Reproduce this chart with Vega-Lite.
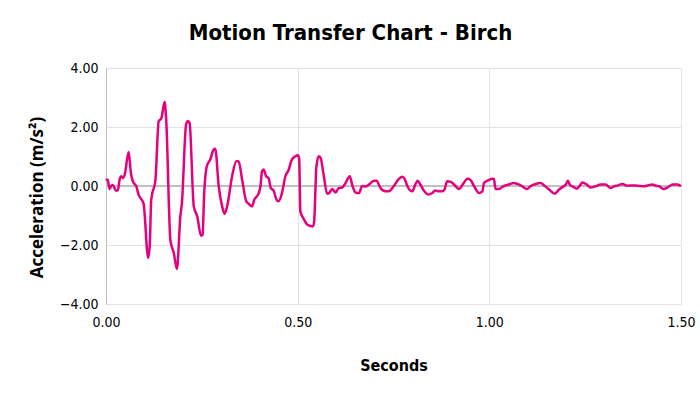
{
  "$schema": "https://vega.github.io/schema/vega-lite/v6.json",
  "width": 575,
  "height": 236,
  "autosize": "none",
  "padding": {"left": 106, "top": 68, "right": 19, "bottom": 90},
  "background": "white",
  "config": {"view": {"stroke": null}},
  "title": {
    "text": "Motion Transfer Chart - Birch",
    "font": "DejaVu Sans Condensed, DejaVu Sans",
    "fontSize": 22,
    "fontWeight": "bold",
    "color": "#000000",
    "anchor": "middle",
    "dx": -43,
    "offset": 16
  },
  "data": {
    "values": [
      {"t": 0, "a": 0.19}, {"t": 0.004, "a": 0.22}, {"t": 0.0096, "a": -0.1}, {"t": 0.014, "a": 0.01},
      {"t": 0.018, "a": 0.03}, {"t": 0.026, "a": -0.16}, {"t": 0.031, "a": -0.15}, {"t": 0.036, "a": 0.25},
      {"t": 0.04, "a": 0.33}, {"t": 0.044, "a": 0.27}, {"t": 0.049, "a": 0.39}, {"t": 0.059, "a": 1.15},
      {"t": 0.065, "a": 0.44}, {"t": 0.07, "a": 0.16}, {"t": 0.079, "a": -0.01}, {"t": 0.085, "a": -0.29},
      {"t": 0.098, "a": -0.6}, {"t": 0.11, "a": -2.43}, {"t": 0.114, "a": -2.05}, {"t": 0.118, "a": -0.46},
      {"t": 0.129, "a": 0.22}, {"t": 0.1375, "a": 2.2}, {"t": 0.144, "a": 2.28}, {"t": 0.153, "a": 2.85},
      {"t": 0.157, "a": 2.26}, {"t": 0.168, "a": -1.83}, {"t": 0.177, "a": -2.28}, {"t": 0.185, "a": -2.81},
      {"t": 0.194, "a": -1.03}, {"t": 0.198, "a": -0.58}, {"t": 0.209, "a": 2.09}, {"t": 0.214, "a": 2.2},
      {"t": 0.218, "a": 2.14}, {"t": 0.229, "a": -0.69}, {"t": 0.238, "a": -1.03}, {"t": 0.248, "a": -1.69},
      {"t": 0.252, "a": -1.65}, {"t": 0.256, "a": -0.3}, {"t": 0.263, "a": 0.67}, {"t": 0.272, "a": 0.9},
      {"t": 0.281, "a": 1.24}, {"t": 0.285, "a": 1.26}, {"t": 0.294, "a": 0.0}, {"t": 0.303, "a": -0.69},
      {"t": 0.309, "a": -0.94}, {"t": 0.316, "a": -0.69}, {"t": 0.329, "a": 0.33}, {"t": 0.34, "a": 0.84},
      {"t": 0.346, "a": 0.84}, {"t": 0.355, "a": 0.22}, {"t": 0.366, "a": -0.52}, {"t": 0.372, "a": -0.6},
      {"t": 0.381, "a": -0.69}, {"t": 0.387, "a": -0.46}, {"t": 0.398, "a": -0.26}, {"t": 0.403, "a": 0.0},
      {"t": 0.407, "a": 0.5}, {"t": 0.411, "a": 0.56}, {"t": 0.418, "a": 0.33}, {"t": 0.424, "a": 0.27},
      {"t": 0.43, "a": -0.07}, {"t": 0.437, "a": -0.15}, {"t": 0.446, "a": -0.49}, {"t": 0.45, "a": -0.52},
      {"t": 0.459, "a": -0.24}, {"t": 0.468, "a": 0.33}, {"t": 0.477, "a": 0.56}, {"t": 0.483, "a": 0.84},
      {"t": 0.494, "a": 1.01}, {"t": 0.501, "a": 1.04}, {"t": 0.504, "a": 0.9}, {"t": 0.507, "a": -0.86},
      {"t": 0.516, "a": -1.12}, {"t": 0.526, "a": -1.32}, {"t": 0.54, "a": -1.37}, {"t": 0.543, "a": -1.2},
      {"t": 0.549, "a": 0.67}, {"t": 0.555, "a": 1.01}, {"t": 0.56, "a": 0.95}, {"t": 0.567, "a": 0.44},
      {"t": 0.577, "a": -0.26}, {"t": 0.582, "a": -0.24}, {"t": 0.59, "a": -0.1}, {"t": 0.599, "a": -0.22},
      {"t": 0.607, "a": -0.07}, {"t": 0.616, "a": -0.05}, {"t": 0.625, "a": 0.1}, {"t": 0.636, "a": 0.33},
      {"t": 0.642, "a": 0.05}, {"t": 0.651, "a": -0.22}, {"t": 0.66, "a": -0.24}, {"t": 0.668, "a": 0.0},
      {"t": 0.677, "a": -0.02}, {"t": 0.686, "a": 0.05}, {"t": 0.699, "a": 0.18}, {"t": 0.706, "a": 0.18},
      {"t": 0.716, "a": -0.07}, {"t": 0.729, "a": -0.18}, {"t": 0.738, "a": -0.18}, {"t": 0.751, "a": 0.0},
      {"t": 0.764, "a": 0.24}, {"t": 0.773, "a": 0.31}, {"t": 0.779, "a": 0.24}, {"t": 0.786, "a": 0.0},
      {"t": 0.799, "a": -0.18}, {"t": 0.807, "a": 0.05}, {"t": 0.813, "a": 0.18}, {"t": 0.82, "a": 0.05},
      {"t": 0.829, "a": -0.15}, {"t": 0.842, "a": -0.29}, {"t": 0.851, "a": -0.24}, {"t": 0.859, "a": -0.15},
      {"t": 0.868, "a": -0.18}, {"t": 0.877, "a": -0.18}, {"t": 0.883, "a": -0.12}, {"t": 0.89, "a": 0.16},
      {"t": 0.9, "a": 0.14}, {"t": 0.908, "a": 0.05}, {"t": 0.921, "a": -0.1}, {"t": 0.932, "a": 0.08},
      {"t": 0.943, "a": 0.25}, {"t": 0.95, "a": 0.22}, {"t": 0.96, "a": 0.0}, {"t": 0.973, "a": -0.24},
      {"t": 0.982, "a": -0.18}, {"t": 0.986, "a": 0.1}, {"t": 0.995, "a": 0.18}, {"t": 1.008, "a": 0.25},
      {"t": 1.012, "a": 0.24}, {"t": 1.016, "a": -0.1}, {"t": 1.025, "a": -0.1}, {"t": 1.038, "a": 0.0},
      {"t": 1.051, "a": 0.05}, {"t": 1.064, "a": 0.1}, {"t": 1.073, "a": 0.07}, {"t": 1.086, "a": -0.01},
      {"t": 1.098, "a": -0.1}, {"t": 1.108, "a": 0.0}, {"t": 1.121, "a": 0.07}, {"t": 1.134, "a": 0.1},
      {"t": 1.143, "a": 0.02}, {"t": 1.156, "a": -0.12}, {"t": 1.171, "a": -0.26}, {"t": 1.182, "a": -0.12},
      {"t": 1.195, "a": 0.0}, {"t": 1.199, "a": 0.04}, {"t": 1.205, "a": 0.18}, {"t": 1.21, "a": 0.04},
      {"t": 1.219, "a": -0.03}, {"t": 1.228, "a": -0.09}, {"t": 1.236, "a": 0.01}, {"t": 1.243, "a": 0.12},
      {"t": 1.254, "a": 0.05}, {"t": 1.264, "a": -0.05}, {"t": 1.277, "a": -0.01}, {"t": 1.29, "a": 0.05},
      {"t": 1.303, "a": 0.05}, {"t": 1.317, "a": -0.07}, {"t": 1.325, "a": -0.01}, {"t": 1.336, "a": 0.02},
      {"t": 1.347, "a": 0.07}, {"t": 1.36, "a": 0.01}, {"t": 1.373, "a": 0.02}, {"t": 1.386, "a": 0.01},
      {"t": 1.404, "a": -0.01}, {"t": 1.413, "a": 0.02}, {"t": 1.426, "a": 0.05}, {"t": 1.434, "a": 0.01},
      {"t": 1.443, "a": -0.01}, {"t": 1.454, "a": -0.1}, {"t": 1.465, "a": -0.05}, {"t": 1.478, "a": 0.05},
      {"t": 1.491, "a": 0.05}, {"t": 1.5, "a": -0.01}
    ]
  },
  "encoding": {
    "x": {
      "field": "t",
      "type": "quantitative",
      "scale": {"domain": [0, 1.5], "nice": false, "zero": false},
      "axis": {
        "title": "Seconds",
        "values": [0, 0.5, 1, 1.5],
        "format": ".2f",
        "labelFont": "DejaVu Sans Condensed, DejaVu Sans",
        "labelFontSize": 14,
        "labelColor": "#000000",
        "labelPadding": 11,
        "labelFlush": false,
        "ticks": false,
        "domain": false,
        "grid": true,
        "gridColor": "#e2e2e2",
        "titleFont": "DejaVu Sans Condensed, DejaVu Sans",
        "titleFontSize": 16,
        "titleFontWeight": "bold",
        "titleColor": "#000000",
        "titleBaseline": "middle",
        "titleY": 61
      }
    },
    "y": {
      "field": "a",
      "type": "quantitative",
      "scale": {"domain": [-4, 4], "nice": false},
      "axis": {
        "title": "Acceleration (m/s²)",
        "values": [-4, -2, 0, 2, 4],
        "format": ".2f",
        "labelFont": "DejaVu Sans Condensed, DejaVu Sans",
        "labelFontSize": 14,
        "labelColor": "#000000",
        "labelPadding": 8,
        "ticks": false,
        "domain": true,
        "domainColor": "#bfbfbf",
        "grid": true,
        "gridColor": "#e2e2e2",
        "titleFont": "Open Sans",
        "titleFontSize": 17,
        "titleFontWeight": "bold",
        "titleColor": "#000000",
        "titleAngle": -90,
        "titleAlign": "center",
        "titleBaseline": "middle",
        "titleX": -69,
        "titleY": 129
      }
    }
  },
  "layer": [
    {
      "mark": {"type": "rule", "color": "#bfbfbf", "strokeWidth": 1},
      "encoding": {"y": {"datum": 0}, "x": {"datum": 0}, "x2": {"datum": 1.5}}
    },
    {
      "mark": {"type": "line", "color": "#e6007e", "strokeWidth": 2.5, "interpolate": "monotone"}
    }
  ]
}
